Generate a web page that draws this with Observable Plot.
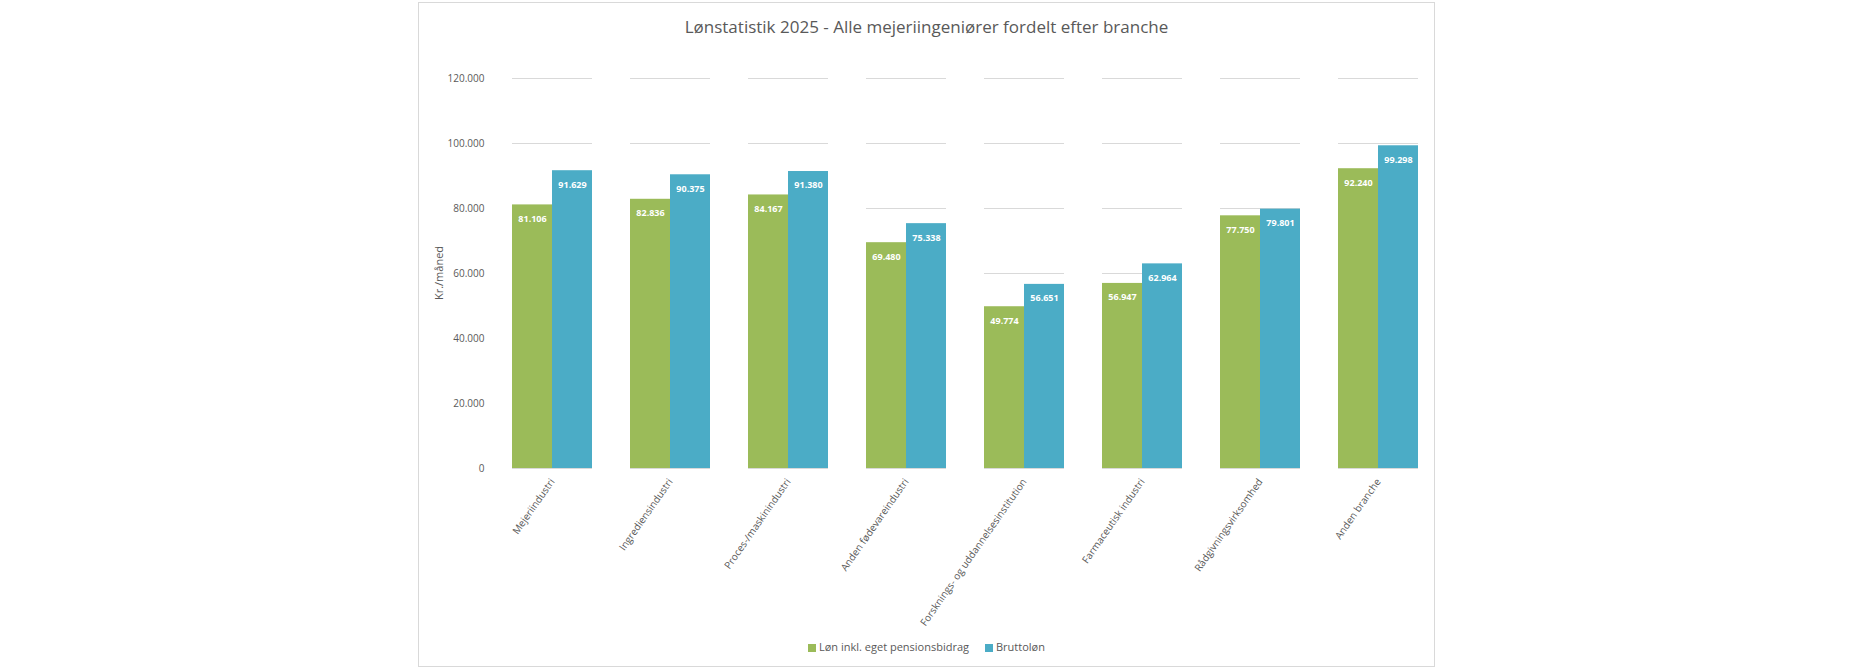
<!DOCTYPE html>
<html><head><meta charset="utf-8">
<script src="https://cdn.jsdelivr.net/npm/d3@7"></script>
<script src="https://cdn.jsdelivr.net/npm/@observablehq/plot@0.6"></script>
<style>
body{margin:0;background:#fff;width:1860px;height:670px;font-family:"Open Sans",sans-serif;}
#box{position:absolute;left:418px;top:2px;width:1015px;height:663px;border:1px solid #d9d9d9;background:#fff;}
#title{position:absolute;top:12px;width:100%;text-align:center;font-size:17px;color:#595959;}
#chart{position:absolute;top:40px;left:0;}
#legend{position:absolute;top:636px;width:100%;text-align:center;font-size:11px;color:#595959;}
#legend span{display:inline-block;margin:0 8px;}
#legend i{display:inline-block;width:8px;height:8px;margin-right:3px;vertical-align:-1px;}
</style></head><body>
<div id="box"><div id="title">Lønstatistik 2025 - Alle mejeriingeniører  fordelt efter branche</div>
<div id="chart"></div><div id="legend"></div></div>
<script>
const categories=["Mejeriindustri","Ingrediensindustri","Proces-/maskinindustri","Anden fødevareindustri","Forsknings- og uddannelsesinstitution","Farmaceutisk industri","Rådgivningsvirksomhed","Anden branche"];
const series=["Løn inkl. eget pensionsbidrag","Bruttoløn"];
const lon=[81106,82836,84167,69480,49774,56947,77750,92240];
const brutto=[91629,90375,91380,75338,56651,62964,79801,99298];
const colors=["#9bbb59","#4bacc6"];
const yTicks=[0,20000,40000,60000,80000,100000,120000];
const data=[];
categories.forEach((c,i)=>{data.push({c,s:series[0],v:lon[i]});data.push({c,s:series[1],v:brutto[i]});});
const fmt=v=>d3.format(",")(v).replace(/,/g,".");
const plot=Plot.plot({
  width:1015,height:592,marginLeft:92,marginRight:14,marginTop:35,marginBottom:167,
  style:{fontFamily:"Open Sans",fontSize:"11px",color:"#595959"},
  fx:{domain:categories,padding:0.32,label:null,tickRotate:-55},
  x:{domain:series,padding:0,axis:null},
  y:{domain:[0,120000],ticks:yTicks,tickFormat:fmt,label:null,grid:false},
  color:{domain:series,range:colors},
  marks:[
    Plot.ruleY(yTicks,{y:d=>d,stroke:"#d9d9d9",strokeWidth:1,facetAnchor:null}),
    Plot.axisY({ticks:yTicks,tickFormat:fmt,tickSize:0,tickPadding:28,fontSize:10,anchor:"left",label:null,facetAnchor:"left"}),
    Plot.barY(data,{fx:"c",x:"s",y:"v",fill:"s"}),
    Plot.text(data,{fx:"c",x:"s",y:"v",text:d=>fmt(d.v),dy:14,fill:"white",fontWeight:"bold",fontSize:9}),
    Plot.axisFx({tickRotate:-55,tickSize:0,fontSize:10,label:null,anchor:"bottom"})
  ]
});
document.getElementById("chart").appendChild(plot);
d3.select("#chart svg").append("text").attr("transform","translate(24,230) rotate(-90)").attr("text-anchor","middle").attr("font-size",11).attr("fill","#595959").text("Kr./måned");
document.getElementById("legend").innerHTML=series.map((s,i)=>`<span><i style="background:${colors[i]}"></i>${s}</span>`).join("");
</script></body></html>
